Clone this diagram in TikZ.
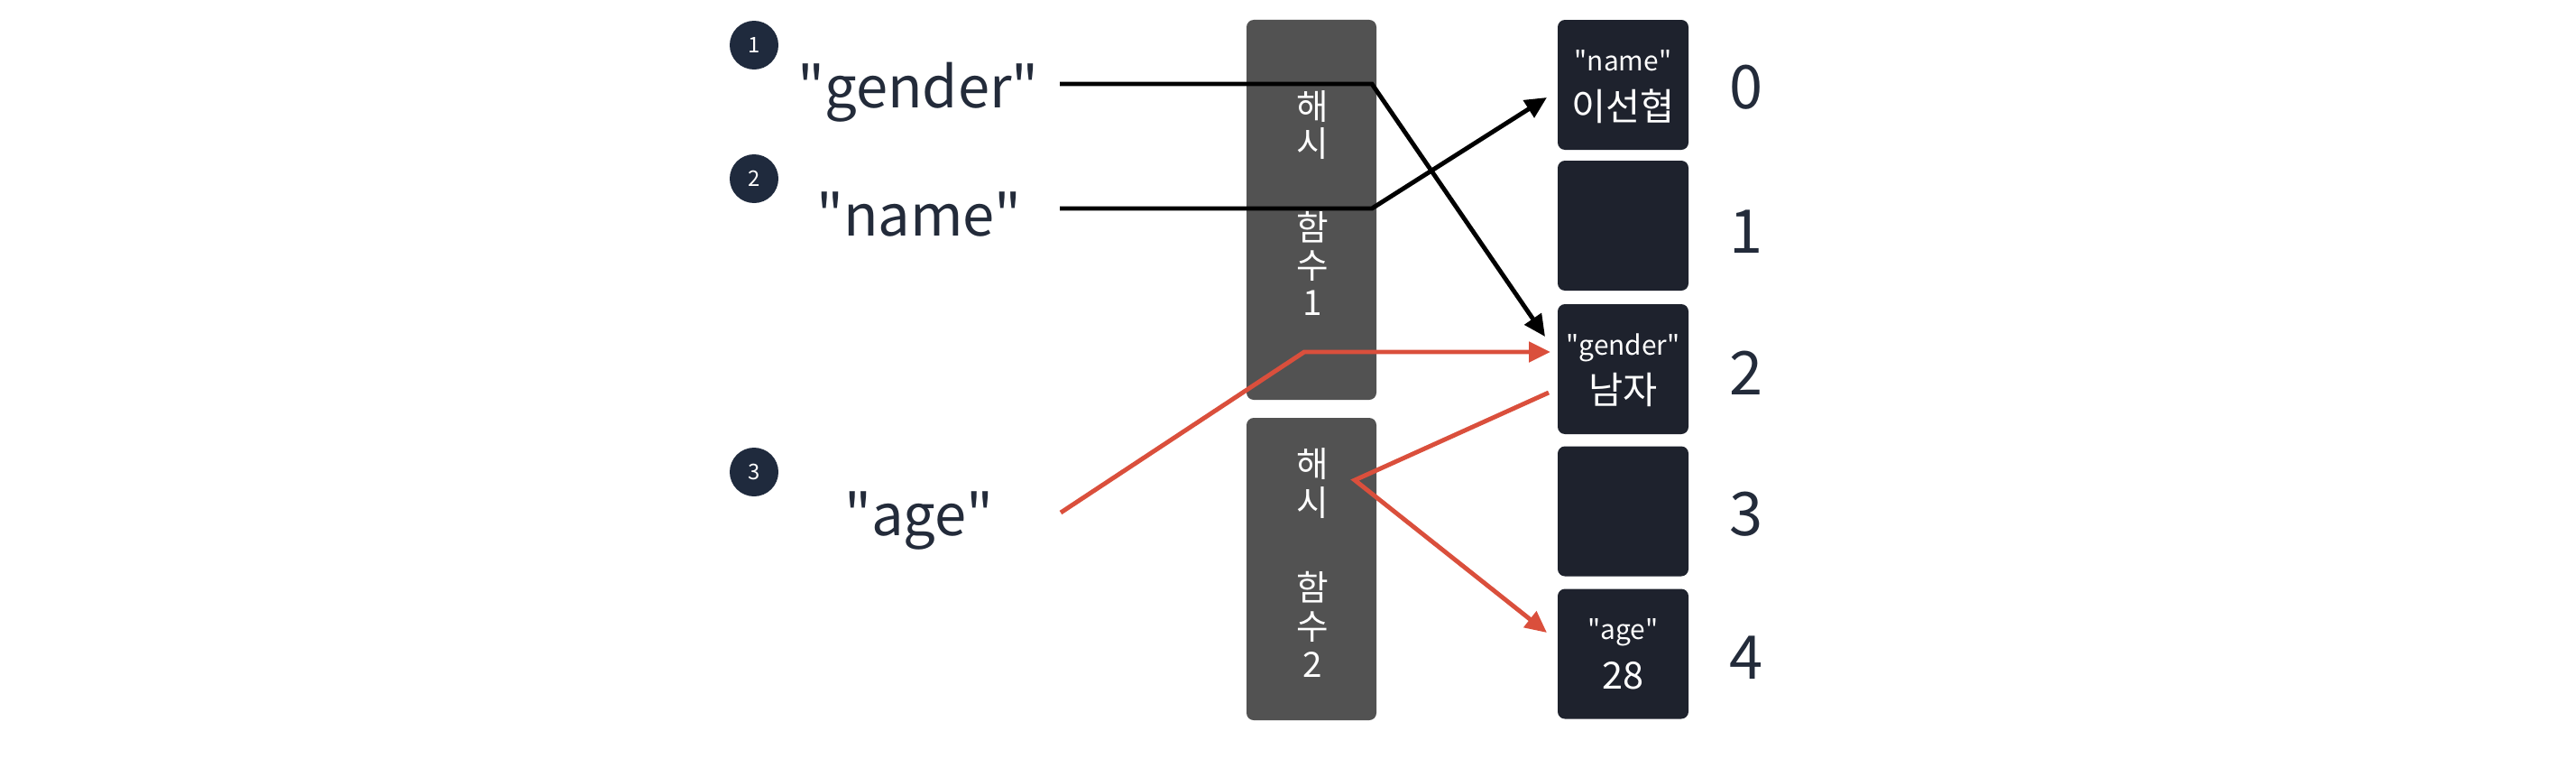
\documentclass[tikz,border=0pt]{standalone}
\usepackage{fontspec}
\setmainfont{Noto Sans CJK KR}
\newfontfamily\kfont{Noto Sans CJK KR}
\usetikzlibrary{arrows.meta}
\definecolor{hashgray}{HTML}{525252}
\definecolor{slotnavy}{HTML}{1E222D}
\definecolor{circnavy}{HTML}{1F2A3D}
\definecolor{txtdark}{HTML}{232B3A}
\definecolor{arrred}{HTML}{DA4F3C}
\begin{document}
\begin{tikzpicture}[x=1cm,y=1cm,
  hashbox/.style={fill=hashgray, rounded corners=0.08cm, minimum width=1.44cm, inner sep=0},
  slotbox/.style={fill=slotnavy, rounded corners=0.08cm, minimum width=1.45cm, minimum height=1.44cm, inner sep=0},
  numcirc/.style={circle, fill=circnavy, text=white, minimum size=0.54cm, inner sep=0, font=\kfont\fontsize{6.8}{8}\selectfont},
  keytext/.style={text=txtdark, font=\kfont\fontsize{18}{21}\selectfont, inner sep=0},
  idxtext/.style={text=txtdark, font=\kfont\fontsize{19}{22}\selectfont, inner sep=0},
  hchar/.style={text=white, font=\kfont\fontsize{11}{13}\selectfont, inner sep=0},
  slotsmall/.style={text=white, font=\kfont\fontsize{8.5}{10}\selectfont, inner sep=0},
  slotbig/.style={text=white, font=\kfont\fontsize{11.8}{13}\selectfont, inner sep=0},
  conn/.style={line width=1.4pt, line join=miter},
  blkarrow/.style={conn, draw=black, -{Triangle[length=2.4mm,width=2.2mm]}},
  redarrow/.style={conn, draw=arrred, -{Triangle[length=2.4mm,width=2.2mm]}}
]
\useasboundingbox (0,0) rectangle (28.56,-8.40);

% numbered circles
\node[numcirc] (c1) at (8.36,-0.50) {1};
\node[numcirc] (c2) at (8.36,-1.98) {2};
\node[numcirc] (c3) at (8.36,-5.23) {3};

% keys
\node[keytext] (kgender) at (10.18,-1.02) {"gender"};
\node[keytext] (kname) at (10.19,-2.38) {"name"};
\node[keytext] (kage) at (10.19,-5.77) {"age"};

% hash function boxes
\node[hashbox, minimum height=4.21cm] (h1) at (14.54,-2.325) {};
\node[hashbox, minimum height=3.35cm] (h2) at (14.54,-6.305) {};
\node[hchar] (h1a) at (14.55,-1.18) {해};
\node[hchar] (h1b) at (14.55,-1.59) {시};
\node[hchar] (h1c) at (14.55,-2.52) {함};
\node[hchar] (h1d) at (14.55,-2.95) {수};
\node[hchar] (h1e) at (14.55,-3.36) {1};
\node[hchar] (h2a) at (14.55,-5.14) {해};
\node[hchar] (h2b) at (14.55,-5.57) {시};
\node[hchar] (h2c) at (14.55,-6.51) {함};
\node[hchar] (h2d) at (14.55,-6.95) {수};
\node[hchar] (h2e) at (14.55,-7.36) {2};

% slots
\node[slotbox] (s0) at (17.995,-0.94) {};
\node[slotbox] (s1) at (17.995,-2.50) {};
\node[slotbox] (s2) at (17.995,-4.09) {};
\node[slotbox] (s3) at (17.995,-5.665) {};
\node[slotbox] (s4) at (17.995,-7.245) {};
\node[slotsmall] (s0k) at (17.995,-0.67) {"name"};
\node[slotbig] (s0v) at (17.995,-1.18) {이선협};
\node[slotsmall] (s2k) at (17.995,-3.85) {"gender"};
\node[slotbig] (s2v) at (17.995,-4.32) {남자};
\node[slotsmall] (s4k) at (17.995,-7.01) {"age"};
\node[slotbig] (s4v) at (17.995,-7.49) {28};

% indices
\node[idxtext] (i0) at (19.36,-0.97) {0};
\node[idxtext] (i1) at (19.36,-2.57) {1};
\node[idxtext] (i2) at (19.36,-4.13) {2};
\node[idxtext] (i3) at (19.36,-5.70) {3};
\node[idxtext] (i4) at (19.36,-7.29) {4};

% connector points
\coordinate (gs) at (11.75,-0.93);
\coordinate (gc) at (15.21,-0.93);
\coordinate (gt) at (17.13,-3.73);
\coordinate (ns) at (11.75,-2.31);
\coordinate (nc) at (15.21,-2.31);
\coordinate (nt) at (17.15,-1.08);
\coordinate (as) at (11.76,-5.68);
\coordinate (ac) at (14.46,-3.90);
\coordinate (at2) at (17.19,-3.90);
\coordinate (rs) at (17.17,-4.35);
\coordinate (rc) at (15.02,-5.32);
\coordinate (rt) at (17.15,-7.01);

% connectors
\draw[blkarrow] (gs) -- (gc) -- (gt);
\draw[blkarrow] (ns) -- (nc) -- (nt);
\draw[redarrow] (as) -- (ac) -- (at2);
\draw[redarrow] (rs) -- (rc) -- (rt);
\end{tikzpicture}
\end{document}
